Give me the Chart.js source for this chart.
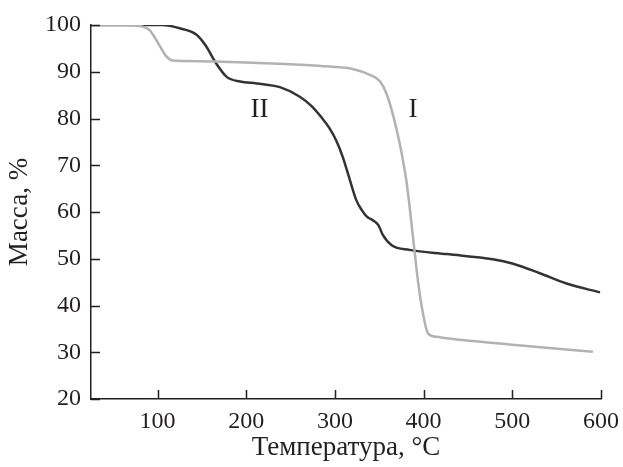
<!DOCTYPE html>
<html>
<head>
<meta charset="utf-8">
<script src="https://cdn.jsdelivr.net/npm/chart.js@4/dist/chart.umd.min.js"></script>
<style>
  html, body { margin: 0; padding: 0; background: #fff; }
  #wrap { width: 623px; height: 467px; }
</style>
</head>
<body>
<div id="wrap"><canvas id="tgaChart"></canvas></div>
<script>
// Curve I (light)
const tempI = [25, 60, 80, 91, 102, 110, 117, 130, 200, 260, 294, 320, 340, 351, 358, 366, 373, 381, 388, 394, 400, 405, 415, 426, 500, 591];
const massI = [100, 100, 99.8, 98.9, 95.7, 93.3, 92.4, 92.3, 92, 91.5, 91.1, 90.6, 89.3, 87.9, 85.4, 80.4, 74.7, 66.1, 54.7, 44.7, 37.6, 34, 33.3, 33, 31.6, 30.1];

// Curve II (dark)
const tempII = [25, 105, 125, 144, 155, 166, 178, 193, 212, 238, 260, 274, 285, 294, 302, 309, 316, 324, 330, 336, 343, 349, 354, 364, 384, 426, 478, 500, 531, 561, 599];
const massII = [100, 100, 99.3, 97.9, 95.4, 91.8, 88.9, 87.9, 87.5, 86.7, 84.7, 82.6, 80.2, 77.9, 75.1, 71.7, 67.4, 62.6, 60.5, 59, 58.2, 57.2, 55.1, 52.9, 51.9, 51, 49.9, 49, 46.9, 44.7, 42.8];

const xTicks = [100, 200, 300, 400, 500, 600];
const yTicks = [20, 30, 40, 50, 60, 70, 80, 90, 100];

// curve labels, placed in data coordinates
const curveLabels = [
  { text: 'I', x: 388, y: 81.8 },
  { text: 'II', x: 215, y: 81.8 },
];

const ink = '#231f20';
const serif = "'Liberation Serif', 'DejaVu Serif', serif";

const toPts = (xs, ys) => xs.map((x, i) => ({ x: x, y: ys[i] }));

// inward tick marks + curve labels
const extras = {
  id: 'extras',
  afterDatasetsDraw(chart) {
    const { ctx, chartArea, scales } = chart;
    const len = 9;
    ctx.save();
    ctx.strokeStyle = ink;
    ctx.lineWidth = 1.5;
    ctx.beginPath();
    xTicks.forEach(v => {
      const px = Math.round(scales.x.getPixelForValue(v)) + 0.5;
      ctx.moveTo(px, chartArea.bottom);
      ctx.lineTo(px, chartArea.bottom - len);
    });
    yTicks.forEach(v => {
      const py = Math.round(scales.y.getPixelForValue(v)) + 0.5;
      ctx.moveTo(chartArea.left, py);
      ctx.lineTo(chartArea.left + len, py);
    });
    ctx.stroke();

    ctx.fillStyle = ink;
    ctx.font = '27px ' + serif;
    ctx.textAlign = 'center';
    ctx.textBaseline = 'middle';
    curveLabels.forEach(l => {
      ctx.fillText(l.text, scales.x.getPixelForValue(l.x), scales.y.getPixelForValue(l.y));
    });
    ctx.restore();
  }
};

const data = {
  datasets: [
    {
      label: 'I',
      data: toPts(tempI, massI),
      borderColor: '#b2b2b2',
      borderWidth: 2.5,
      pointRadius: 0,
      cubicInterpolationMode: 'monotone',
    },
    {
      label: 'II',
      data: toPts(tempII, massII),
      borderColor: '#333333',
      borderWidth: 2.5,
      pointRadius: 0,
      cubicInterpolationMode: 'monotone',
    },
  ],
};

const config = {
  type: 'line',
  data,
  options: {
    responsive: true,
    maintainAspectRatio: false,
    animation: false,
    layout: { padding: { top: 25, right: 22, left: 0, bottom: 0 } },
    plugins: {
      legend: { display: false },
      tooltip: { enabled: false },
    },
    scales: {
      x: {
        type: 'linear',
        min: 25,
        max: 600,
        afterBuildTicks: s => { s.ticks = xTicks.map(v => ({ value: v })); },
        afterFit: s => { s.height = 68; s.paddingLeft = 0; s.paddingRight = 0; },
        grid: { display: false, drawTicks: false },
        border: { display: true, color: ink, width: 1.5 },
        ticks: { color: ink, font: { family: serif, size: 24 }, padding: 8, maxRotation: 0 },
        title: {
          display: true,
          text: 'Температура, °C',
          color: ink,
          font: { family: serif, size: 27 },
          padding: { top: 0, bottom: 3 },
        },
      },
      y: {
        min: 20,
        max: 100,
        afterBuildTicks: s => { s.ticks = yTicks.map(v => ({ value: v })); },
        afterFit: s => { s.width = 91; s.paddingTop = 0; s.paddingBottom = 0; },
        grid: { display: false, drawTicks: false },
        border: { display: true, color: ink, width: 1.5 },
        ticks: { color: ink, font: { family: serif, size: 24 }, padding: 10 },
        title: {
          display: true,
          text: 'Масса, %',
          color: ink,
          font: { family: serif, size: 27 },
          padding: { top: 4, bottom: 0 },
        },
      },
    },
  },
  plugins: [extras],
};

new Chart(document.getElementById('tgaChart').getContext('2d'), config);
</script>
</body>
</html>
